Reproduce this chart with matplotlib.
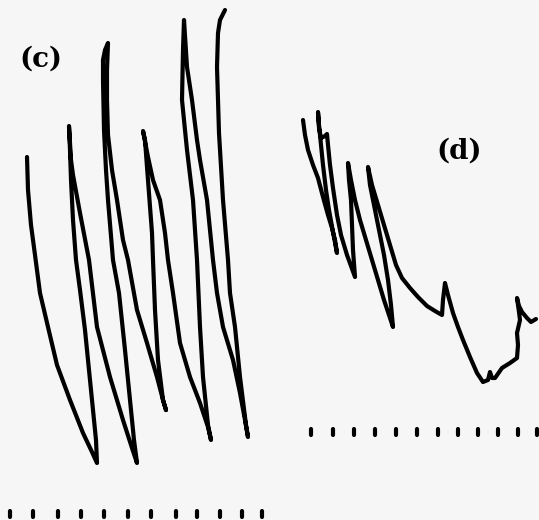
import matplotlib
matplotlib.use("Agg")
import matplotlib.pyplot as plt

# Trace (c): recorded pen path, drawing-space coordinates (y grows downward)
trace_c_x = [27, 28, 31, 35, 40, 48, 57, 70, 83, 92, 97,
             96, 93, 90, 85, 80, 76, 73, 71, 70, 69,
             71, 73, 80, 89, 97, 110, 123, 132, 137,
             134, 130, 125, 119, 113, 108, 106, 104, 103, 103, 105, 108,
             107, 107, 108, 112, 117, 123, 128, 137, 147, 157, 163, 166,
             163, 158, 155, 153, 152, 147, 145, 143,
             148, 153, 160, 165, 168, 173, 180, 190, 200, 208, 211,
             208, 203, 200, 197, 193, 187, 182, 183, 184,
             187, 192, 197, 200, 207, 213, 217, 223, 233, 240, 245, 248,
             246, 240, 235, 230, 228, 223, 219, 217, 218, 220, 225]
trace_c_y = [157, 190, 225, 255, 293, 327, 365, 400, 433, 452, 463,
             440, 410, 380, 330, 290, 260, 220, 180, 150, 126,
             160, 175, 213, 260, 327, 377, 420, 448, 463,
             440, 400, 350, 293, 260, 200, 170, 130, 80, 60, 50, 43,
             70, 100, 135, 170, 200, 240, 260, 310, 343, 377, 400, 410,
             400, 360, 310, 260, 233, 167, 140, 131,
             157, 180, 200, 233, 260, 293, 343, 377, 403, 427, 440,
             425, 377, 327, 260, 200, 150, 100, 50, 20,
             67, 100, 140, 160, 200, 260, 293, 327, 360, 393, 420, 437,
             425, 377, 327, 293, 260, 200, 133, 67, 33, 20, 10]

# Trace (d)
trace_d_x = [303, 305, 308, 313, 318, 323, 328, 332, 335, 337,
             333, 329, 326, 323, 321, 319, 318,
             319, 321, 325, 327, 328,
             330, 333, 337, 341, 347, 355,
             353, 352, 351, 349, 348,
             351, 355, 360, 366, 372, 378, 384, 390, 393,
             391, 388, 384, 379, 374, 370, 368,
             372, 378, 384, 390, 396, 402, 410, 418, 427, 435, 442, 443, 445,
             448, 453, 458, 463, 470, 477, 483, 488, 490, 492, 495, 502, 510, 517,
             518, 517, 520, 519, 517, 519, 522, 527, 531, 536]
trace_d_y = [120, 135, 150, 165, 178, 197, 215, 228, 240, 253,
             232, 210, 190, 165, 145, 125, 112,
             128, 138, 136, 134, 145,
             165, 188, 215, 235, 255, 277,
             250, 225, 200, 180, 163,
             180, 200, 220, 240, 260, 280, 300, 318, 327,
             305, 280, 255, 230, 205, 185, 167,
             185, 205, 225, 245, 265, 278, 288, 297, 306, 311, 315, 300, 283,
             295, 313, 327, 340, 357, 373, 382, 380, 372, 378, 378, 368, 363, 358,
             345, 333, 320, 312, 298, 306, 312, 318, 322, 319]

# Time marks under each trace
ticks_c = [10, 33, 58, 81, 104, 128, 151, 176, 197, 220, 242, 262]
ticks_c_y = 514
ticks_d = [311, 333, 354, 375, 396, 417, 438, 458, 478, 498, 518, 537]
ticks_d_y = 432

labels = ["(c)", "(d)"]
label_pos = [(41, 59), (459, 151)]

fig = plt.figure(figsize=(5.39, 5.20), dpi=100)
fig.patch.set_facecolor("#f6f6f6")
ax = fig.add_axes([0, 0, 1, 1])
ax.set_facecolor("#f6f6f6")
ax.set_xlim(0, 539)
ax.set_ylim(520, 0)
ax.axis("off")

line_kw = dict(color="black", lw=3.0, solid_joinstyle="round", solid_capstyle="round")
ax.plot(trace_c_x, trace_c_y, **line_kw)
ax.plot(trace_d_x, trace_d_y, **line_kw)

for xs, y0 in ((ticks_c, ticks_c_y), (ticks_d, ticks_d_y)):
    marks = ax.vlines(xs, y0 - 3, y0 + 3, color="black", lw=3.0)
    marks.set_capstyle("round")

for text, (x, y) in zip(labels, label_pos):
    ax.text(x, y, text, ha="center", va="center", fontsize=20,
            family="DejaVu Serif", fontweight="bold", color="black")

fig.savefig("out.png", dpi=100, facecolor=fig.get_facecolor())
